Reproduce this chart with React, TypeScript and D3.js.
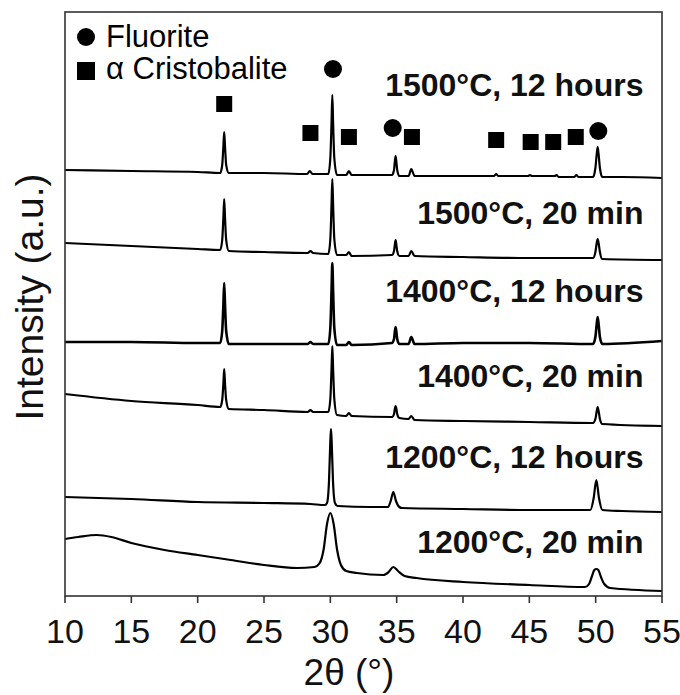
import React from "react";
import * as d3 from "d3";

// 2θ tick values
const xTicks = [10, 15, 20, 25, 30, 35, 40, 45, 50, 55];

// series names, top to bottom
const seriesNames = [
  "1500°C, 12 hours",
  "1500°C, 20 min",
  "1400°C, 12 hours",
  "1400°C, 20 min",
  "1200°C, 12 hours",
  "1200°C, 20 min",
];

// [2θ, intensity (a.u., offset stack)]
const s1500h12: [number, number][] = [
  [10, 426], [15, 425], [20, 424], [21.7, 423], [21.85, 431], [21.94, 450], [22.0, 464], [22.06, 450], [22.15, 431], [22.35, 423],
  [25, 423], [28.25, 422], [28.45, 425], [28.65, 422], [29.85, 422], [30.0, 438], [30.09, 473], [30.15, 501], [30.21, 473], [30.3, 438], [30.5, 421],
  [31.2, 421], [31.4, 425], [31.6, 421], [34.65, 421], [34.8, 426], [34.86, 434], [34.92, 440], [34.98, 434], [35.04, 426], [35.2, 420],
  [35.9, 420], [36.1, 427], [36.35, 420],
  [40, 420], [42.35, 420], [42.5, 422], [42.65, 420], [44.9, 420], [45.05, 421], [45.2, 420], [46.9, 420], [47.05, 421], [47.2, 419],
  [48.4, 419], [48.55, 421], [48.7, 419], [49.8, 419], [49.98, 428], [50.08, 442], [50.15, 449], [50.22, 442], [50.32, 428], [50.5, 419],
  [52, 419], [55, 418],
];
const s1500m20: [number, number][] = [
  [10, 353], [15, 350], [20, 347], [21.7, 346], [21.85, 356], [21.94, 379], [22.0, 397], [22.06, 379], [22.15, 356], [22.35, 345],
  [25, 344], [28.3, 343], [28.5, 345], [28.7, 343], [29.85, 342], [30.0, 357], [30.09, 391], [30.15, 417], [30.21, 391], [30.3, 357], [30.5, 341],
  [31.2, 341], [31.4, 344], [31.6, 340], [34.65, 341], [34.8, 345], [34.86, 351], [34.92, 356], [34.98, 351], [35.04, 345], [35.2, 340],
  [35.9, 340], [36.1, 345], [36.35, 340],
  [40, 339], [45, 338], [49.8, 338], [49.98, 344], [50.08, 353], [50.15, 357], [50.22, 353], [50.32, 344], [50.5, 337], [55, 336],
];
const s1400h12: [number, number][] = [
  [10, 254], [15, 254], [20, 253], [21.7, 253], [21.85, 265], [21.94, 292], [22.0, 313], [22.06, 292], [22.15, 265], [22.35, 252],
  [25, 252], [28.3, 252], [28.5, 254], [28.7, 252], [29.85, 252], [30.0, 268], [30.09, 305], [30.15, 333], [30.21, 305], [30.3, 268], [30.5, 251],
  [31.2, 251], [31.4, 254], [31.6, 251], [34.65, 253], [34.8, 257], [34.86, 264], [34.92, 269], [34.98, 264], [35.04, 257], [35.2, 252],
  [35.9, 252], [36.1, 259], [36.35, 252],
  [40, 253], [45, 253], [49.8, 252], [49.98, 259], [50.08, 272], [50.15, 279], [50.22, 272], [50.32, 259], [50.5, 252], [55, 255],
];
const s1400m20: [number, number][] = [
  [10, 202], [15, 195], [20, 191], [21.7, 189], [21.85, 196], [21.94, 213], [22.0, 227], [22.06, 213], [22.15, 196], [22.35, 187],
  [25, 186], [28.3, 184], [28.5, 186], [28.7, 184], [29.85, 184], [30.0, 197], [30.09, 227], [30.15, 250], [30.21, 227], [30.3, 197], [30.5, 181],
  [31.2, 180], [31.4, 183], [31.6, 180], [34.65, 179], [34.8, 182], [34.86, 187], [34.92, 190], [34.98, 187], [35.04, 182], [35.2, 178],
  [35.9, 177], [36.1, 180], [36.35, 176],
  [40, 175], [45, 174], [49.8, 173], [49.98, 177], [50.08, 185], [50.15, 189], [50.22, 185], [50.32, 177], [50.5, 172], [55, 170],
];
const s1200h12: [number, number][] = [
  [10, 99], [15, 97], [20, 94], [25, 93], [28.5, 92], [29.6, 91], [29.75, 93], [29.9, 115], [30.0, 155], [30.05, 167], [30.1, 155], [30.2, 115], [30.35, 93], [30.55, 90],
  [33, 89], [34.35, 89], [34.55, 95], [34.75, 104], [34.95, 95], [35.2, 89], [35.4, 88],
  [40, 87], [45, 86], [49.6, 86], [49.85, 98], [50.05, 116], [50.25, 98], [50.5, 86], [52, 85], [55, 84],
];
const s1200m20: [number, number][] = [
  [10, 57], [11, 59], [12.4, 61], [13.5, 59], [15, 53], [17.5, 46], [20, 41], [22.5, 36], [25, 31], [27.5, 28], [28.8, 29],
  [29.2, 33], [29.5, 47], [29.75, 72], [30.0, 83], [30.25, 72], [30.5, 47], [30.8, 31], [31.2, 25], [32, 23],
  [34.0, 21], [34.4, 24], [34.75, 29], [35.1, 25], [35.6, 20], [36.5, 18], [40, 14], [45, 11], [49.2, 9],
  [49.5, 12], [49.7, 19], [49.9, 26], [50.05, 27], [50.2, 26], [50.4, 19], [50.65, 12], [51.1, 8], [55, 5],
];
const patterns = [s1500h12, s1500m20, s1400h12, s1400m20, s1200h12, s1200m20];

// phase markers on the top pattern: [2θ, height]
const fluoriteMarks: [number, number][] = [[30.2, 527], [34.7, 468], [50.2, 465]];
const cristobaliteMarks: [number, number][] = [
  [22.0, 492], [28.5, 463], [31.4, 459], [36.15, 459], [42.5, 456], [45.1, 454], [46.8, 454], [48.5, 459],
];

export default function App() {
  const width = 680;
  const height = 695;
  const marginLeft = 65;
  const marginRight = 18;
  const marginTop = 12;
  const marginBottom = 99;
  const font = "'Liberation Sans', Arial, sans-serif";

  const x = d3.scaleLinear().domain([10, 55]).range([marginLeft, width - marginRight]);
  const y = d3.scaleLinear().domain([0, 584]).range([height - marginBottom, marginTop]);

  const line = d3.line<[number, number]>()
    .x(d => x(d[0]))
    .y(d => y(d[1]))
    .curve(d3.curveMonotoneX);

  // label lift above the right end of each pattern (px)
  const labelLift = [82, 36, 39, 39, 44, 38];
  const sq = 16;

  return (
    <div style={{ position: "fixed", left: 0, top: 0 }}>
      <svg width={width} height={height} style={{ display: "block", background: "#fff" }}>
        {/* patterns */}
        <g fill="none" stroke="#000" strokeLinejoin="round">
          {patterns.map((p, i) => (
            <path key={i} d={line(p) || ""} strokeWidth={i === 2 ? 2.6 : 2.2} />
          ))}
        </g>

        {/* series labels */}
        <g fontFamily={font} fontWeight="bold" fontSize={32} textAnchor="end" fill="#111">
          {seriesNames.map((name, i) => {
            const last = patterns[i][patterns[i].length - 1];
            return (
              <text key={name} x={x(53.6)} y={y(last[1]) - labelLift[i]}>{name}</text>
            );
          })}
        </g>

        {/* phase markers */}
        <g fill="#000">
          {fluoriteMarks.map(([t, v], i) => (
            <circle key={"f" + i} cx={x(t)} cy={y(v)} r={9} />
          ))}
          {cristobaliteMarks.map(([t, v], i) => (
            <rect key={"c" + i} x={x(t) - sq / 2} y={y(v) - sq / 2} width={sq} height={sq} />
          ))}
        </g>

        {/* legend */}
        <g fontFamily={font} fontSize={31} fill="#000">
          <circle cx={marginLeft + 21} cy={marginTop + 25} r={9} />
          <text x={marginLeft + 41} y={marginTop + 35}>Fluorite</text>
          <rect x={marginLeft + 12} y={marginTop + 50} width={18} height={18} />
          <text x={marginLeft + 41} y={marginTop + 67}>α Cristobalite</text>
        </g>

        {/* frame */}
        <rect
          x={marginLeft}
          y={marginTop}
          width={width - marginLeft - marginRight}
          height={height - marginTop - marginBottom}
          fill="none"
          stroke="#333"
          strokeWidth={1.6}
        />

        {/* x axis ticks */}
        <g transform={`translate(0, ${height - marginBottom})`} fontFamily={font} fontSize={34} textAnchor="middle">
          {xTicks.map(t => (
            <g key={t} transform={`translate(${x(t)}, 0)`}>
              <line y2={7} stroke="#333" strokeWidth={1.6} />
              <text y={47} fill="#111">{t}</text>
            </g>
          ))}
        </g>

        {/* axis titles */}
        <text x={349} y={685} fontFamily={font} fontSize={37} textAnchor="middle" fill="#111">2θ (°)</text>
        <text
          transform={`translate(43, 297) rotate(-90)`}
          fontFamily={font}
          fontSize={39}
          textAnchor="middle"
          fill="#111"
        >
          Intensity (a.u.)
        </text>
      </svg>
    </div>
  );
}
